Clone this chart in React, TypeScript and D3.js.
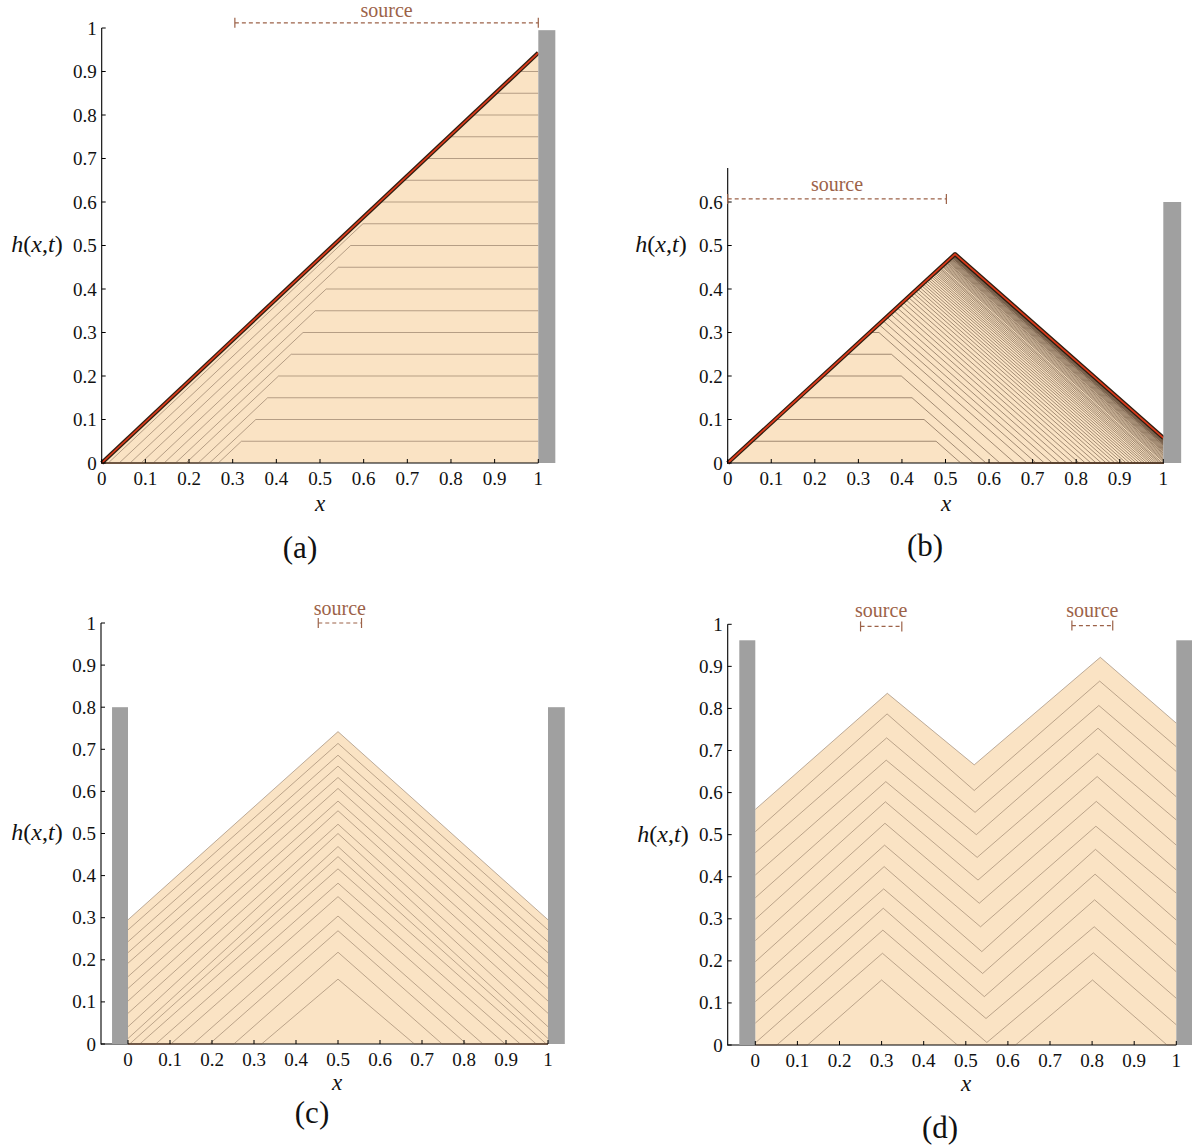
import React from 'react';
import * as d3 from 'd3';

// ---------------- shared ticks ----------------
const xTickValues = [0, 0.1, 0.2, 0.3, 0.4, 0.5, 0.6, 0.7, 0.8, 0.9, 1];
const xTickLabels = ['0', '0.1', '0.2', '0.3', '0.4', '0.5', '0.6', '0.7', '0.8', '0.9', '1'];
const yTickValuesFull = [0, 0.1, 0.2, 0.3, 0.4, 0.5, 0.6, 0.7, 0.8, 0.9, 1];
const yTickLabelsFull = ['0', '0.1', '0.2', '0.3', '0.4', '0.5', '0.6', '0.7', '0.8', '0.9', '1'];
const yTickValuesB = [0, 0.1, 0.2, 0.3, 0.4, 0.5, 0.6];
const yTickLabelsB = ['0', '0.1', '0.2', '0.3', '0.4', '0.5', '0.6'];

// ---------------- panel (a) ----------------
const aLevels = [0.05, 0.1, 0.15, 0.2, 0.25, 0.3, 0.35, 0.4, 0.45, 0.5, 0.55, 0.6, 0.65, 0.7, 0.75, 0.8, 0.85, 0.9];
const aFoot = [0.267, 0.247, 0.221, 0.193, 0.169, 0.143, 0.118, 0.09, 0.065, 0.04, 0.015, 0, 0, 0, 0, 0, 0, 0];
const aFinalTop = 0.943; // h at x = 1 of final profile
const aWall = { x0: 1.0, x1: 1.039, top: 0.995 };
const aSource = { x0: 0.305, x1: 1.0, h: 1.012 };

// ---------------- panel (b) ----------------
const bLeftSlope = 0.92;
const bRightSlope = 0.883;
const bPlateauLevels = [0.05, 0.1, 0.15, 0.2, 0.25, 0.3];
const bPlateauFoot = [0.535, 0.564, 0.593, 0.625, 0.659, 0.687];
const bPeakFoot = [0.708, 0.727, 0.745, 0.762, 0.778, 0.793, 0.807, 0.821, 0.834, 0.846, 0.858, 0.869, 0.879, 0.889, 0.898, 0.907, 0.915, 0.923, 0.931, 0.938, 0.945, 0.952, 0.958, 0.964, 0.97, 0.975, 0.98, 0.985, 0.99, 0.994, 0.998];
const bWallH = [0.003, 0.006, 0.009, 0.012, 0.015, 0.018, 0.021, 0.023, 0.026, 0.028, 0.03, 0.032, 0.034, 0.036, 0.038, 0.04, 0.041, 0.043, 0.044, 0.045, 0.046, 0.047, 0.048, 0.049, 0.05, 0.051, 0.052, 0.0525, 0.053, 0.0535, 0.054, 0.0545, 0.055, 0.0555, 0.056, 0.0565, 0.057, 0.0575, 0.058];
const bWall = { x0: 1.0, x1: 1.041, top: 0.6 };
const bSource = { x0: 0.0, x1: 0.502, h: 0.607 };

// ---------------- panel (c) ----------------
const cPeak = [0.154, 0.218, 0.269, 0.304, 0.35, 0.382, 0.416, 0.445, 0.469, 0.5, 0.522, 0.554, 0.577, 0.607, 0.633, 0.66, 0.686, 0.714, 0.742];
const cWallH = [0, 0, 0, 0, 0, 0, 0, 0, 0.013, 0.041, 0.073, 0.102, 0.132, 0.16, 0.192, 0.217, 0.243, 0.271, 0.295];
const cFoot = [0.318, 0.252, 0.194, 0.155, 0.102, 0.066, 0.028, 0.004, 0, 0, 0, 0, 0, 0, 0, 0, 0, 0, 0];
const cWalls = [{ x0: -0.038, x1: 0, top: 0.8 }, { x0: 1.0, x1: 1.04, top: 0.8 }];
const cSources = [{ x0: 0.453, x1: 0.556, h: 1.0 }];

// ---------------- panel (d) ----------------
const dPeak1X = [0.3, 0.302, 0.303, 0.304, 0.305, 0.306, 0.307, 0.308, 0.309, 0.31, 0.311, 0.312, 0.313, 0.3135];
const dPeak1H = [0.1545, 0.218, 0.273, 0.325, 0.371, 0.424, 0.475, 0.527, 0.578, 0.626, 0.677, 0.73, 0.787, 0.836];
const dValleyLX = [0.48, 0.55, 0.548, 0.544, 0.54, 0.538, 0.535, 0.532, 0.529, 0.527, 0.525, 0.522, 0.52, 0.52];
const dValleyRX = [0.618, 0.55, 0.548, 0.544, 0.54, 0.538, 0.535, 0.532, 0.529, 0.527, 0.525, 0.522, 0.52, 0.52];
const dValleyH = [0, 0.006, 0.063, 0.115, 0.17, 0.222, 0.281, 0.337, 0.392, 0.446, 0.5, 0.553, 0.605, 0.666];
const dPeak2X = [0.801, 0.803, 0.805, 0.806, 0.807, 0.808, 0.809, 0.81, 0.812, 0.813, 0.814, 0.816, 0.818, 0.8195];
const dPeak2H = [0.1545, 0.219, 0.281, 0.345, 0.406, 0.465, 0.52, 0.579, 0.638, 0.693, 0.753, 0.807, 0.865, 0.9216];
const dWallLH = [0, 0, 0.005, 0.052, 0.103, 0.148, 0.198, 0.248, 0.299, 0.35, 0.404, 0.457, 0.507, 0.56];
const dFootL = [0.124, 0.051, 0, 0, 0, 0, 0, 0, 0, 0, 0, 0, 0, 0];
const dWallRH = [0, 0.048, 0.111, 0.174, 0.238, 0.297, 0.361, 0.416, 0.475, 0.535, 0.59, 0.65, 0.709, 0.765];
const dFootR = [0.978, 1, 1, 1, 1, 1, 1, 1, 1, 1, 1, 1, 1, 1];
const dWalls = [{ x0: -0.038, x1: 0, top: 0.962 }, { x0: 1.0, x1: 1.04, top: 0.962 }];
const dSources = [{ x0: 0.25, x1: 0.348, h: 0.995 }, { x0: 0.752, x1: 0.849, h: 0.997 }];

type Pt = [number, number];

// ---------------- profile builders ----------------
function profilesA(): Pt[][] {
  return aLevels.map((L, i) => {
    const a = aFoot[i];
    return [[0, 0], [a, 0], [a + L / aFinalTop, L], [1, L]] as Pt[];
  });
}
const finalA: Pt[] = [[0, 0], [1, aFinalTop]];

function profilesB(): Pt[][] {
  const res: Pt[][] = [];
  bPlateauLevels.forEach((L, i) => {
    const b = bPlateauFoot[i];
    res.push([[0, 0], [L / bLeftSlope, L], [b - L / bRightSlope, L], [b, 0], [1, 0]]);
  });
  bPeakFoot.forEach((b) => {
    const xp = (bRightSlope * b) / (bLeftSlope + bRightSlope);
    res.push([[0, 0], [xp, bLeftSlope * xp], [b, 0], [1, 0]]);
  });
  bWallH.forEach((w) => {
    const xp = (w + bRightSlope) / (bLeftSlope + bRightSlope);
    res.push([[0, 0], [xp, bLeftSlope * xp], [1, w]]);
  });
  return res;
}

function profilesC(): Pt[][] {
  return cPeak.map((p, i) => {
    const w = cWallH[i];
    if (w > 0) return [[0, w], [0.5, p], [1, w]] as Pt[];
    const f = cFoot[i];
    return [[0, 0], [f, 0], [0.5, p], [1 - f, 0], [1, 0]] as Pt[];
  });
}

function profilesD(): Pt[][] {
  return dPeak1H.map((p1, i) => {
    const pts: Pt[] = [];
    if (dWallLH[i] > 0) pts.push([0, dWallLH[i]]);
    else { pts.push([0, 0]); pts.push([dFootL[i], 0]); }
    pts.push([dPeak1X[i], p1]);
    pts.push([dValleyLX[i], dValleyH[i]]);
    if (dValleyRX[i] !== dValleyLX[i]) pts.push([dValleyRX[i], dValleyH[i]]);
    pts.push([dPeak2X[i], dPeak2H[i]]);
    if (dWallRH[i] > 0) pts.push([1, dWallRH[i]]);
    else { pts.push([dFootR[i], 0]); pts.push([1, 0]); }
    return pts;
  });
}

// ---------------- styles ----------------
const FONT = '"Liberation Serif", "DejaVu Serif", serif';
const FILL = '#fae3c4';
const WALL = '#a0a0a0';
const SRC = '#9c6248';
const RED = '#dc3a1b';

interface Box { x0: number; x1: number; top: number }
interface Src { x0: number; x1: number; h: number }

interface PanelProps {
  xr: [number, number];
  yr: [number, number];
  axisX: number;
  yTop: number;
  yTicks: number[];
  yTickLabels: string[];
  profiles: Pt[][];
  final: Pt[];
  redFinal: boolean;
  lineColor: string;
  lineOpacity: number;
  walls: Box[];
  sources: Src[];
  srcLabelDy: number;
  yLabel: [number, number];
  xLabel: [number, number];
  caption: string;
  captionPos: [number, number];
}

function Panel(props: PanelProps) {
  const xs = d3.scaleLinear().domain([0, 1]).range(props.xr);
  const ys = d3.scaleLinear().domain([0, 1]).range(props.yr);
  const line = d3.line<Pt>().x((d) => xs(d[0])).y((d) => ys(d[1]));
  const area = d3.area<Pt>().x((d) => xs(d[0])).y0(ys(0)).y1((d) => ys(d[1]));
  const y0 = ys(0);
  const axisRight = xs(1);
  const txt = { fontFamily: FONT };
  return (
    <g>
      <path d={area(props.final) || ''} fill={FILL} stroke="none" />
      <line x1={props.axisX} x2={axisRight} y1={y0} y2={y0} stroke="#000" strokeWidth={1.1} />
      {props.profiles.map((p, i) => (
        <path key={i} d={line(p) || ''} fill="none" stroke={props.lineColor} strokeOpacity={props.lineOpacity} strokeWidth={0.9} strokeLinejoin="round" />
      ))}
      {props.redFinal ? (
        <g>
          <path d={line(props.final) || ''} fill="none" stroke="#2e1d10" strokeWidth={4.2} strokeLinejoin="round" />
          <path d={line(props.final) || ''} fill="none" stroke={RED} strokeWidth={1.7} strokeLinejoin="round" />
        </g>
      ) : (
        <path d={line(props.final) || ''} fill="none" stroke={props.lineColor} strokeOpacity={props.lineOpacity} strokeWidth={0.9} strokeLinejoin="round" />
      )}
      {props.walls.map((w, i) => (
        <rect key={i} x={xs(w.x0)} y={ys(w.top)} width={xs(w.x1) - xs(w.x0)} height={y0 - ys(w.top)} fill={WALL} />
      ))}
      <line x1={props.axisX} x2={props.axisX} y1={y0 + 0.5} y2={ys(props.yTop)} stroke="#000" strokeWidth={1.1} />
      {props.yTicks.map((t, i) => (
        <g key={i}>
          <line x1={props.axisX} x2={props.axisX + 4} y1={ys(t)} y2={ys(t)} stroke="#000" strokeWidth={1} />
          <text x={props.axisX - 5} y={ys(t) + 6.5} textAnchor="end" style={txt} fontSize={19} fill="#111">
            {props.yTickLabels[i]}
          </text>
        </g>
      ))}
      {xTickValues.map((t, i) => (
        <g key={i}>
          <line x1={xs(t)} x2={xs(t)} y1={y0} y2={y0 - 4} stroke="#000" strokeWidth={1} />
          <text x={xs(t)} y={y0 + 22} textAnchor="middle" style={txt} fontSize={19} fill="#111">
            {xTickLabels[i]}
          </text>
        </g>
      ))}
      {props.sources.map((s, i) => {
        const yy = ys(s.h);
        const xa = xs(s.x0);
        const xb = xs(s.x1);
        return (
          <g key={i}>
            <line x1={xa} x2={xb} y1={yy} y2={yy} stroke={SRC} strokeWidth={1.2} strokeDasharray="4,3" />
            <line x1={xa} x2={xa} y1={yy - 5} y2={yy + 5} stroke={SRC} strokeWidth={1.2} />
            <line x1={xb} x2={xb} y1={yy - 5} y2={yy + 5} stroke={SRC} strokeWidth={1.2} />
            <text x={(xa + xb) / 2} y={yy + props.srcLabelDy} textAnchor="middle" style={txt} fontSize={20} fill={SRC}>
              source
            </text>
          </g>
        );
      })}
      <text x={props.yLabel[0]} y={props.yLabel[1]} textAnchor="middle" style={txt} fontSize={24} fill="#111">
        <tspan fontStyle="italic">h</tspan>(<tspan fontStyle="italic">x</tspan>,<tspan fontStyle="italic">t</tspan>)
      </text>
      <text x={props.xLabel[0]} y={props.xLabel[1]} textAnchor="middle" style={txt} fontSize={23} fontStyle="italic" fill="#111">
        x
      </text>
      <text x={props.captionPos[0]} y={props.captionPos[1]} textAnchor="middle" style={txt} fontSize={31} fill="#111">
        {props.caption}
      </text>
    </g>
  );
}

export default function App() {
  const pa = profilesA();
  const pb = profilesB();
  const finalB = pb[pb.length - 1];
  const pc = profilesC();
  const finalC = pc[pc.length - 1];
  const pd = profilesD();
  const finalD = pd[pd.length - 1];
  return (
    <svg width={1192} height={1145} style={{ position: 'absolute', left: 0, top: 0, background: '#fff' }}>
      <rect x={0} y={0} width={1192} height={1145} fill="#fff" />
      <Panel
        xr={[101.7, 538.3]}
        yr={[463, 28]}
        axisX={101.7}
        yTop={1.0}
        yTicks={yTickValuesFull}
        yTickLabels={yTickLabelsFull}
        profiles={pa}
        final={finalA}
        redFinal={true}
        lineColor="#6e5643"
        lineOpacity={0.55}
        walls={[aWall]}
        sources={[aSource]}
        srcLabelDy={-6}
        yLabel={[37, 252]}
        xLabel={[320, 511]}
        caption="(a)"
        captionPos={[300, 558]}
      />
      <Panel
        xr={[727.7, 1163.3]}
        yr={[463, 28]}
        axisX={727.7}
        yTop={0.678}
        yTicks={yTickValuesB}
        yTickLabels={yTickLabelsB}
        profiles={pb.slice(0, pb.length - 1)}
        final={finalB}
        redFinal={true}
        lineColor="#5a4330"
        lineOpacity={0.62}
        walls={[bWall]}
        sources={[bSource]}
        srcLabelDy={-8}
        yLabel={[661, 252]}
        xLabel={[946, 511]}
        caption="(b)"
        captionPos={[925, 556]}
      />
      <Panel
        xr={[128, 548]}
        yr={[1044, 623]}
        axisX={101}
        yTop={1.0}
        yTicks={yTickValuesFull}
        yTickLabels={yTickLabelsFull}
        profiles={pc.slice(0, pc.length - 1)}
        final={finalC}
        redFinal={false}
        lineColor="#6e5643"
        lineOpacity={0.5}
        walls={cWalls}
        sources={cSources}
        srcLabelDy={-8}
        yLabel={[37, 840]}
        xLabel={[337, 1090]}
        caption="(c)"
        captionPos={[312, 1123]}
      />
      <Panel
        xr={[755.3, 1176.3]}
        yr={[1045, 624.3]}
        axisX={727.7}
        yTop={1.0}
        yTicks={yTickValuesFull}
        yTickLabels={yTickLabelsFull}
        profiles={pd.slice(0, pd.length - 1)}
        final={finalD}
        redFinal={false}
        lineColor="#6e5643"
        lineOpacity={0.5}
        walls={dWalls}
        sources={dSources}
        srcLabelDy={-9}
        yLabel={[663, 842]}
        xLabel={[966, 1091]}
        caption="(d)"
        captionPos={[940, 1138]}
      />
    </svg>
  );
}
